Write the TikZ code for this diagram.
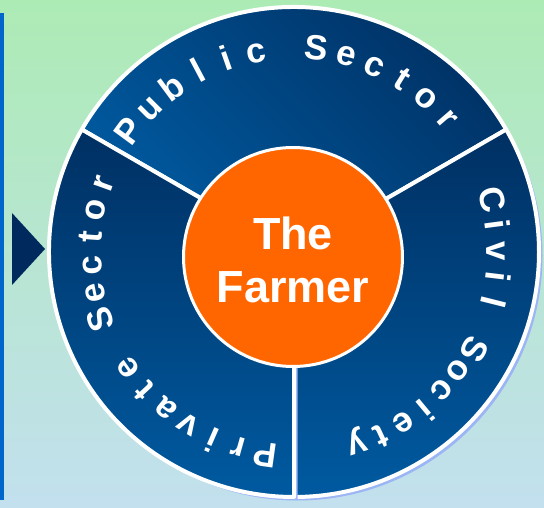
\documentclass[tikz,border=0pt]{standalone}
\usepackage{fontspec}
\setmainfont{Liberation Sans}
\usetikzlibrary{calc}

\definecolor{bgtop}{HTML}{ADEBB5}
\definecolor{bgbottom}{HTML}{C2E0EE}
\definecolor{edgeblue}{HTML}{0066CC}
\definecolor{navy}{HTML}{002A5E}
\definecolor{ringdark}{HTML}{003063}
\definecolor{ringlight}{HTML}{005AA0}
\definecolor{shadowblue}{HTML}{9BB5F5}
\definecolor{farmerorange}{HTML}{FF6600}

\newcommand{\ringfont}{\fontsize{35}{35}\selectfont\bfseries}
\newlength{\chw}

% letters spread clockwise from angle #1 to angle #2 on radius #3, tops outward
\newcommand{\ringlabel}[4]{%
  \gdef\rlsum{0}\gdef\rlcount{0}%
  \foreach \ch in {#4} {
    \settowidth{\chw}{\ringfont\ch}
    \pgfmathsetmacro{\rltmp}{\rlsum+\chw}\global\let\rlsum\rltmp
    \pgfmathtruncatemacro{\rltmp}{\rlcount+1}\global\let\rlcount\rltmp
  }
  \pgfmathsetmacro{\rltrack}{((#1)-(#2))*pi/180*#3-\rlsum)/(\rlcount-1)}
  \gdef\rlpos{0}%
  \foreach \ch in {#4} {
    \settowidth{\chw}{\ringfont\ch}
    \pgfmathsetmacro{\rlang}{(#1)-(\rlpos+\chw/2)/#3*180/pi}
    \node[ringletter, rotate=\rlang-90] at ([shift={(\rlang:#3)}]hub) {\ch};
    \pgfmathsetmacro{\rltmp}{\rlpos+\chw+\rltrack}\global\let\rlpos\rltmp
  }
}

\begin{document}
\begin{tikzpicture}[x=1pt, y=1pt,
    slice/.style={top color=ringdark, bottom color=ringlight, draw=white, line width=4pt, line join=round},
    ringletter/.style={text=white, font=\ringfont, inner sep=0pt, anchor=base},
    farmer/.style={circle, fill=farmerorange, draw=white, line width=3pt, minimum size=219pt, inner sep=0pt},
    farmertext/.style={text=white, align=center, inner sep=0pt, font=\fontsize{45}{53}\selectfont\bfseries}]
  \useasboundingbox (0,0) rectangle (544,507);
  \shade[top color=bgtop, bottom color=bgbottom] (0,0) rectangle (544,507);

  \fill[edgeblue] (0,7) rectangle (4,494);
  \fill[navy] (12,294) -- (12,222) -- (45,258) -- cycle;

  \coordinate (hub) at (294,255);

  % public, civil, private
  \foreach \sa/\sb/\tilt in {30/150/-45, -90/30/0, 150/270/0} {
    \fill[shadowblue] ([shift={(3.5,-3.5)}]hub) -- ++(\sa:245) arc[start angle=\sa, end angle=\sb, radius=245] -- cycle;
    \shadedraw[slice, shading angle=\tilt] (hub) -- ++(\sa:245) arc[start angle=\sa, end angle=\sb, radius=245] -- cycle;
  }

  \node[farmer] (farmer) at (293,250) {};
  \node[farmertext] (name) at ([yshift=-3]farmer.center) {The\\Farmer};

  \ringlabel{143.7}{40.8}{193}{P,u,b,l,i,c,~,S,e,c,t,o,r}
  \ringlabel{14.8}{-71.9}{193}{C,i,v,i,l,~,S,o,c,i,e,t,y}
  \ringlabel{262}{160.2}{193}{P,r,i,v,a,t,e,~,S,e,c,t,o,r}
\end{tikzpicture}
\end{document}
